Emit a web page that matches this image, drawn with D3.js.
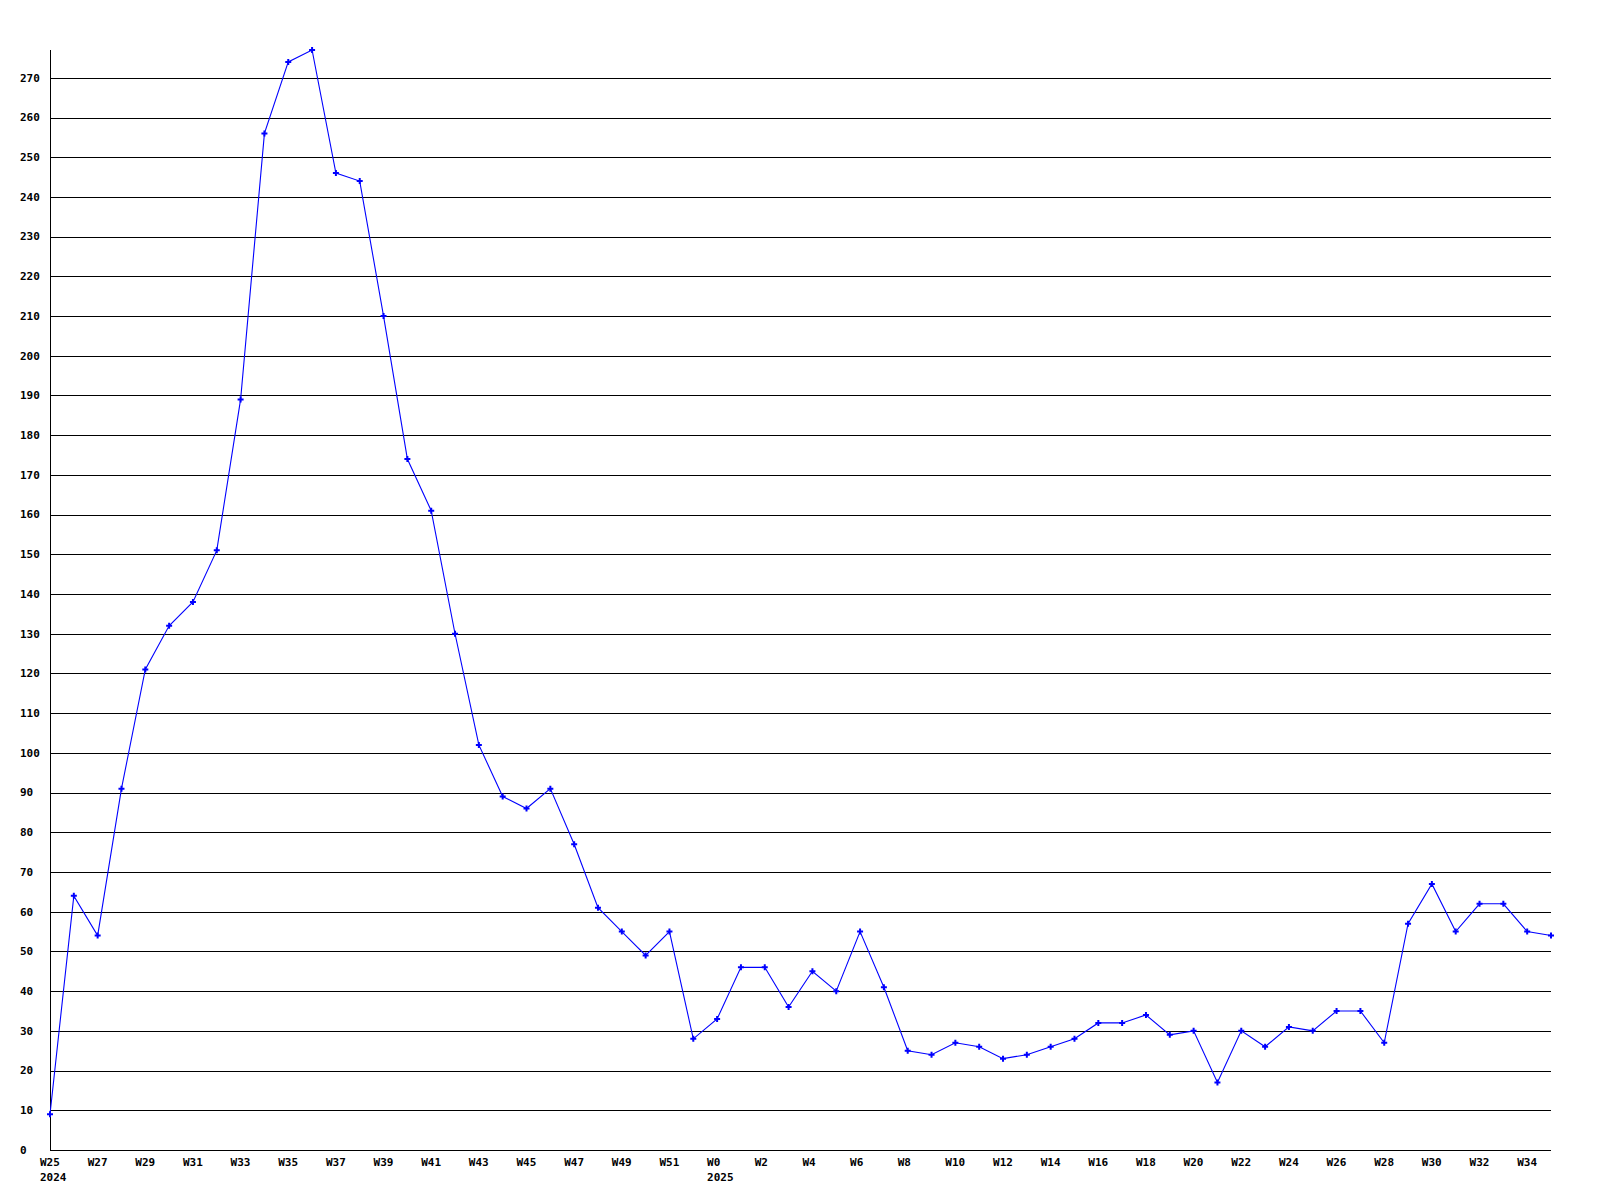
<!DOCTYPE html>
<html>
<head>
<meta charset="utf-8">
<script src="https://cdn.jsdelivr.net/npm/d3@7"></script>
<style>
html,body{margin:0;padding:0;background:#fff;}
svg{display:block;}
text{font-family:"DejaVu Sans Mono","Liberation Mono",monospace;font-weight:bold;font-size:11px;fill:#000;}
</style>
</head>
<body>
<svg id="chart" width="1600" height="1200"></svg>
<script>
const weeks = ["W25","W26","W27","W28","W29","W30","W31","W32","W33","W34","W35","W36","W37","W38","W39","W40","W41","W42","W43","W44","W45","W46","W47","W48","W49","W50","W51","W52",
  "W0","W1","W2","W3","W4","W5","W6","W7","W8","W9","W10","W11","W12","W13","W14","W15","W16","W17","W18","W19","W20","W21","W22","W23","W24","W25","W26","W27","W28","W29","W30","W31","W32","W33","W34","W35"];
const values = [9,64,54,91,121,132,138,151,189,256,274,277,246,244,210,174,161,130,102,89,86,91,77,61,55,49,55,28,
  33,46,46,36,45,40,55,41,25,24,27,26,23,24,26,28,32,32,34,29,30,17,30,26,31,30,35,35,27,57,67,55,62,62,55,54];
const yearLabels = [{index:0, label:"2024"},{index:28, label:"2025"}];
const yTicks = d3.range(0, 271, 10);

(function () {
const svg = d3.select("#chart");
const mLeft = 50, mRight = 1551, mTop = 50, mBottom = 1150;
const x = d3.scaleLinear().domain([0, values.length - 1]).range([mLeft, mRight]);
const y = d3.scaleLinear().domain([0, 277]).range([mBottom, mTop]);

// gridlines
svg.append("g").attr("shape-rendering", "crispEdges").selectAll("line").data(yTicks.filter(d => d > 0)).join("line")
  .attr("x1", mLeft).attr("x2", mRight)
  .attr("y1", d => Math.round(y(d)) + 0.5).attr("y2", d => Math.round(y(d)) + 0.5)
  .attr("stroke", "#000").attr("stroke-width", 1);

// axes lines
const ax = svg.append("g").attr("shape-rendering", "crispEdges");
ax.append("line").attr("x1", mLeft + 0.5).attr("x2", mLeft + 0.5).attr("y1", mTop).attr("y2", mBottom)
  .attr("stroke", "#000").attr("stroke-width", 1);
ax.append("line").attr("x1", mLeft).attr("x2", mRight).attr("y1", mBottom + 0.5).attr("y2", mBottom + 0.5)
  .attr("stroke", "#000").attr("stroke-width", 1);

// y labels
svg.append("g").selectAll("text").data(yTicks).join("text")
  .attr("x", 20).attr("y", d => y(d)).attr("dy", "0.35em")
  .text(d => d);

// x labels every 2 weeks
const xIdx = d3.range(0, values.length, 2);
svg.append("g").selectAll("text").data(xIdx).join("text")
  .attr("x", d => x(d) - 10).attr("y", 1162).attr("dy", "0.35em")
  .text(d => weeks[d]);
svg.append("g").selectAll("text").data(yearLabels).join("text")
  .attr("x", d => x(d.index) - 10).attr("y", 1177).attr("dy", "0.35em")
  .text(d => d.label);

// line
const line = d3.line().x((d, i) => x(i)).y(d => y(d));
svg.append("path").datum(values).attr("d", line)
  .attr("fill", "none").attr("stroke", "#0000ff").attr("stroke-width", 1.1);

// markers
svg.append("g").selectAll("path").data(values).join("path")
  .attr("transform", (d, i) => `translate(${x(i)},${y(d)})`)
  .attr("d", d3.symbol().type(d3.symbolCross).size(20))
  .attr("fill", "#0000ff");
})();
</script>
</body>
</html>
